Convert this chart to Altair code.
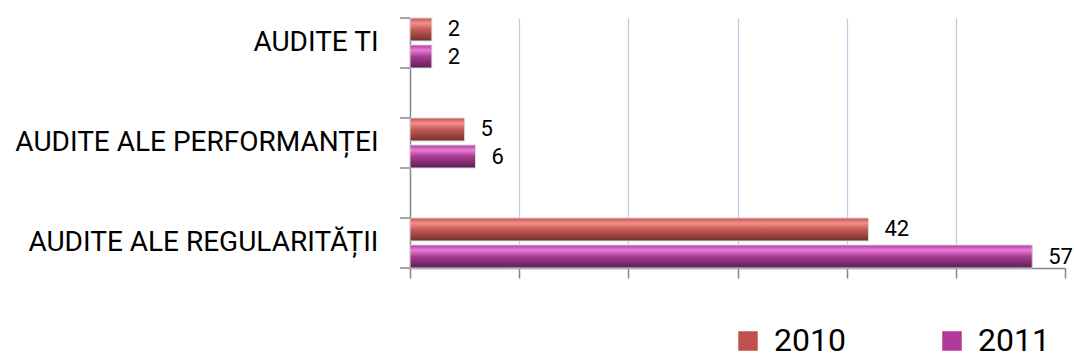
import altair as alt
import pandas as pd

categories = ["AUDITE TI", "AUDITE ALE PERFORMANȚEI", "AUDITE ALE REGULARITĂȚII"]
years = ["2010", "2011"]
values_2010 = [2, 5, 42]
values_2011 = [2, 6, 57]
x_ticks = [0, 10, 20, 30, 40, 50, 60]

rows = []
for c, v in zip(categories, values_2010):
    rows.append({"cat": c, "year": "2010", "value": v})
for c, v in zip(categories, values_2011):
    rows.append({"cat": c, "year": "2011", "value": v})
df = pd.DataFrame(rows)
ticks_df = pd.DataFrame({"cat": categories})

FONT = "Roboto"
GREY = "#868686"

y_axis = alt.Axis(title=None, ticks=False, labelFontSize=28, labelFont=FONT,
                  labelColor="#000000", labelPadding=32, labelLimit=600,
                  domainColor=GREY, domainWidth=1.5)
y_scale = alt.Scale(paddingInner=0.5, paddingOuter=0)
Y = alt.Y("cat:N", sort=categories, scale=y_scale, axis=y_axis)
YO = alt.YOffset("year:N", sort=years, scale=alt.Scale(paddingInner=0.15, paddingOuter=0))

x_axis = alt.Axis(values=x_ticks, labels=False, title=None, tickSize=10,
                  tickColor=GREY, domainColor=GREY, domainWidth=1.5, tickWidth=1.5,
                  gridColor={"condition": {"test": "datum.value == 0 || datum.value == 60",
                                           "value": "transparent"},
                             "value": "#b9cde5"},
                  gridWidth=1.2)
X = alt.X("value:Q", scale=alt.Scale(domain=[0, 60], nice=False), axis=x_axis)

base = alt.Chart(df)

flat = base.mark_bar().encode(
    y=Y, yOffset=YO, x=X,
    color=alt.Color("year:N", sort=years,
                    scale=alt.Scale(domain=years, range=["#c0504d", "#b0399b"]),
                    legend=alt.Legend(title=None, orient="none", direction="horizontal",
                                      legendX=322, legendY=307, padding=0,
                                      symbolType="square", symbolSize=380,
                                      symbolStrokeWidth=0, labelFontSize=32,
                                      labelFont=FONT, labelColor="#000000",
                                      labelOffset=10, columnPadding=90,
                                      symbolOpacity=1)),
)

red_grad = alt.Gradient(gradient="linear", x1=0, y1=0, x2=0, y2=1, stops=[
    alt.GradientStop(color="#c0504d", offset=0),
    alt.GradientStop(color="#f3908c", offset=0.22),
    alt.GradientStop(color="#c45a56", offset=0.5),
    alt.GradientStop(color="#72302f", offset=1),
])
mag_grad = alt.Gradient(gradient="linear", x1=0, y1=0, x2=0, y2=1, stops=[
    alt.GradientStop(color="#b0399b", offset=0),
    alt.GradientStop(color="#ea7cd8", offset=0.22),
    alt.GradientStop(color="#a83d92", offset=0.5),
    alt.GradientStop(color="#5c1e55", offset=1),
])

over_2010 = base.transform_filter(alt.datum.year == "2010").mark_bar(
    fill=red_grad, stroke="#d8d8d8", strokeWidth=1).encode(y=Y, yOffset=YO, x=X)
over_2011 = base.transform_filter(alt.datum.year == "2011").mark_bar(
    fill=mag_grad, stroke="#d8d8d8", strokeWidth=1).encode(y=Y, yOffset=YO, x=X)

labels = base.mark_text(align="left", baseline="middle", dx=16, fontSize=22,
                        font=FONT, color="#000000").encode(
    y=Y, yOffset=YO, x=X, text=alt.Text("value:Q"))

tick_top = alt.Chart(ticks_df).mark_rule(color=GREY, strokeWidth=1.5).encode(
    y=alt.Y("cat:N", sort=categories, scale=y_scale, axis=y_axis, bandPosition=0),
    x=alt.value(-10), x2=alt.value(0))
tick_bot = alt.Chart(ticks_df).mark_rule(color=GREY, strokeWidth=1.5).encode(
    y=alt.Y("cat:N", sort=categories, scale=y_scale, axis=y_axis, bandPosition=1),
    x=alt.value(-10), x2=alt.value(0))

chart = alt.layer(flat, over_2010, over_2011, labels, tick_top, tick_bot).properties(
    width=655, height=250,
    autosize=alt.AutoSizeParams(type="none"),
    padding={"left": 410, "top": 18, "right": 9, "bottom": 90},
    background="white",
).configure_view(stroke=None)

chart.save("out.html", embed_options={"renderer": "svg", "actions": False})
